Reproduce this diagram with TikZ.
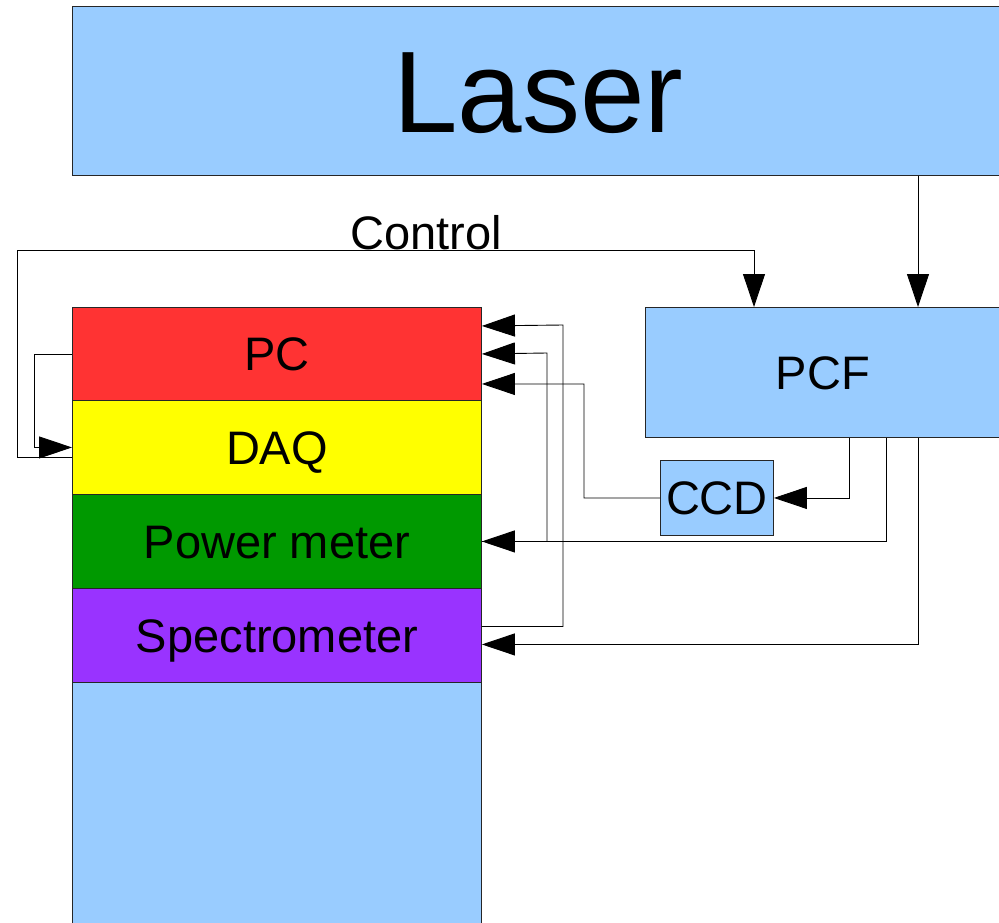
\documentclass[tikz,border=0pt]{standalone}
\usepackage{fontspec}
\setmainfont{Liberation Sans}
\usetikzlibrary{arrows.meta}
\definecolor{lblue}{HTML}{99CCFF}
\definecolor{pcred}{HTML}{FF3333}
\definecolor{daqyel}{HTML}{FFFF00}
\definecolor{pmgreen}{HTML}{009900}
\definecolor{specpur}{HTML}{9933FF}
\begin{document}
\begin{tikzpicture}[x=1pt,y=-1pt,
  blk/.style={draw=black!85,line width=0.9pt,inner sep=0pt,anchor=north west,
    font=\fontsize{47}{56}\selectfont,text height=34pt,text depth=0pt},
  conn/.style={line width=0.9pt,black},
  arr/.style={conn,-{Triangle[length=33pt,width=22pt]}}]
\useasboundingbox (0,0) rectangle (999,923);
\clip (0,0) rectangle (999,923);
% boxes
\node[blk,fill=lblue,minimum width=932,minimum height=169,
  font=\fontsize{116}{130}\selectfont,text height=84pt] (laser) at (72,6) {Laser};
\node[blk,fill=lblue,minimum width=409,minimum height=250] (base) at (72,682) {};
\node[blk,fill=pcred,minimum width=409,minimum height=93] (pc) at (72,307) {PC};
\node[blk,fill=daqyel,minimum width=409,minimum height=94] (daq) at (72,400) {DAQ};
\node[blk,fill=pmgreen,minimum width=409,minimum height=94] (pm) at (72,494) {Power meter};
\node[blk,fill=specpur,minimum width=409,minimum height=94] (spec) at (72,588) {Spectrometer};
\node[blk,fill=lblue,minimum width=355,minimum height=130] (pcf) at (645,307) {PCF};
\node[blk,fill=lblue,minimum width=113,minimum height=75] (ccd) at (660,460) {CCD};
% helper coordinates
\coordinate (xL) at (918,0);
\coordinate (xC) at (754,0);
\coordinate (xA) at (849,0);
\coordinate (xB) at (886,0);
% connectors
\draw[arr] (laser.south -| xL) -- (pcf.north -| xL);
\draw[arr] ([yshift=-10pt]daq.west) -| (17,250) -| (pcf.north -| xC);
\node[font=\fontsize{47}{56}\selectfont,inner sep=0pt,text height=34pt,text depth=0pt] (ctl) at (426,232) {Control};
\draw[arr] (pc.west) -- ++(-38,0) |- (daq.west);
\draw[arr] (pcf.south -| xA) |- (ccd.east);
\draw[arr] (pcf.south -| xB) |- (pm.east);
\draw[arr] (pcf.south -| xL) |- ([yshift=-9pt]spec.east);
\draw[arr] ([yshift=9pt]spec.east) -| (563,325) -- ([yshift=28pt]pc.east);
\draw[arr] (pm.east) -| (547,353) -- (pc.east);
\draw[arr] (ccd.west) -| (584,384) -- ([yshift=-30pt]pc.east);
\end{tikzpicture}
\end{document}
